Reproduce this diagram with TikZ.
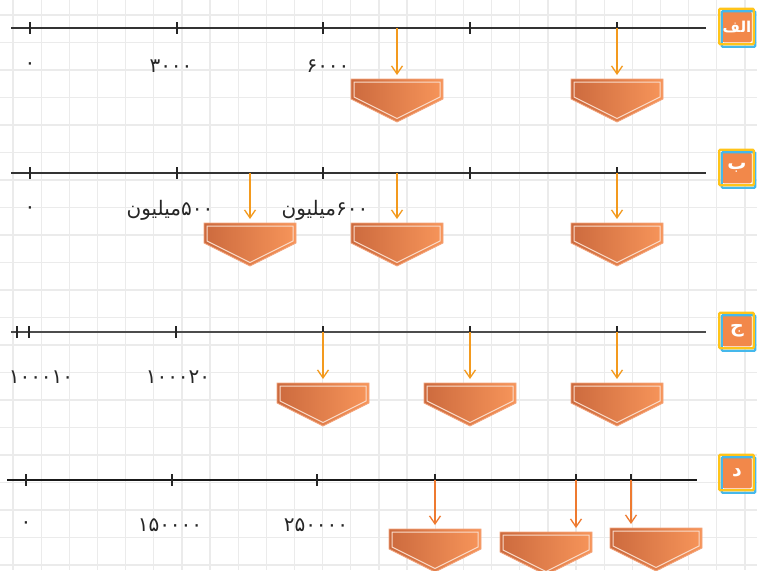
\documentclass[tikz,border=0pt]{standalone}
\usepackage{fontspec}
\newfontfamily\arabicfont[Script=Arabic]{DejaVu Sans}
\TeXXeTstate=1
\usetikzlibrary{arrows.meta,calc}

\definecolor{gridgray}{HTML}{EBEBEB}
\definecolor{axisgray}{HTML}{333333}
\definecolor{arrorange}{HTML}{F39A1E}
\definecolor{arrred}{HTML}{EE7A30}
\definecolor{mkdark}{HTML}{CC6A3E}
\definecolor{mklight}{HTML}{F7955A}
\definecolor{mkedge}{HTML}{F3A57D}
\definecolor{mkinner}{HTML}{F9DCCB}
\definecolor{tagorange}{HTML}{F2884A}
\definecolor{tagyellow}{HTML}{FFC41A}
\definecolor{tagblue}{HTML}{45B8EC}

% pentagon marker below an axis, #1 = name of its top centre
\newcommand{\pentmark}[3]{%
  \coordinate (#1) at (#2,#3);
  \shadedraw[left color=mkdark, right color=mklight, draw=mkedge, line width=0.8pt]
    ([xshift=-46pt]#1) -- ++(92,0) -- ++(0,20) -- ++(-46,23) -- ++(-46,-23) -- cycle;
  \draw[mkinner, line width=1pt]
    ([xshift=-43pt,yshift=-3pt]#1) -- ++(86,0) -- ++(0,15) -- ++(-43,21.5) -- ++(-43,-21.5) -- cycle;
}

\begin{document}
\begin{tikzpicture}[x=1pt, y=-1pt,
    gridline/.style={gridgray, line width=1.3pt},
    axis/.style={axisgray, line width=1.5pt},
    tick/.style={black!85, line width=1.8pt},
    arr/.style={arrorange, line width=1.3pt, -{Straight Barb[length=8pt,width=11pt]}, shorten >=4pt},
    num/.style={font=\arabicfont\fontsize{20}{22}\selectfont, text=black!85, inner sep=0pt},
    tag/.style={fill=tagorange, draw=white, line width=1.5pt, rounded corners=2pt, minimum width=31pt, minimum height=32pt, text=white, font=\arabicfont\bfseries\fontsize{19}{20}\selectfont, inner sep=0pt},
    tagframe/.style={line width=2.2pt, rounded corners=1pt}
]
\useasboundingbox[fill=white] (0,0) rectangle (757,570);
\foreach \i in {0,...,26} \draw[gridline] (13+28.15*\i,0) -- (13+28.15*\i,570);
\foreach \j in {0,...,20} \draw[gridline] (0,15+27.5*\j) -- (757,15+27.5*\j);

% row alef
\draw[axis] (11,28) -- (706,28);
\foreach \x [count=\i] in {30,177,323,470,617} {
  \coordinate (a\i) at (\x,28);
  \draw[tick] ([yshift=6pt]a\i) -- ([yshift=-6pt]a\i);
}
\coordinate (a0) at (397,28);
\pentmark{mA1}{397}{79}
\pentmark{mA2}{617}{79}
\draw[arr] (a0) -- (a0 |- mA1);
\draw[arr] (a5) -- (a5 |- mA2);
\node[num] (lA1) at (30,66) {۰};
\node[num] (lA2) at (171,66) {۳۰۰۰};
\node[num] (lA3) at (328,66) {۶۰۰۰};

% row be
\draw[axis] (11,173) -- (706,173);
\foreach \x [count=\i] in {30,177,323,470,617} {
  \coordinate (b\i) at (\x,173);
  \draw[tick] ([yshift=6pt]b\i) -- ([yshift=-6pt]b\i);
}
\coordinate (b0) at (250,173);
\coordinate (b00) at (397,173);
\pentmark{mB1}{250}{223}
\pentmark{mB2}{397}{223}
\pentmark{mB3}{617}{223}
\draw[arr] (b0) -- (b0 |- mB1);
\draw[arr] (b00) -- (b00 |- mB2);
\draw[arr] (b5) -- (b5 |- mB3);
\node[num] (lB1) at (30,210) {۰};
\node[num] (lB2) at (170,210) {\beginR\beginL ۵۰۰\endL{}میلیون\endR};
\node[num] (lB3) at (325,210) {\beginR\beginL ۶۰۰\endL{}میلیون\endR};

% row jim
\draw[axis, black!70] (11,332) -- (706,332);
\foreach \x [count=\i] in {17,29,176,323,470,617} {
  \coordinate (c\i) at (\x,332);
  \draw[tick] ([yshift=6pt]c\i) -- ([yshift=-6pt]c\i);
}
\pentmark{mC1}{323}{383}
\pentmark{mC2}{470}{383}
\pentmark{mC3}{617}{383}
\draw[arr] (c4) -- (c4 |- mC1);
\draw[arr] (c5) -- (c5 |- mC2);
\draw[arr] (c6) -- (c6 |- mC3);
\node[num] (lC1) at (41,377) {۱۰۰۰۱۰};
\node[num] (lC2) at (178,377) {۱۰۰۰۲۰};

% row dal
\draw[axis, line width=2pt, black!90] (7,480) -- (697,480);
\foreach \x [count=\i] in {26,172,317,435,576,631} {
  \coordinate (d\i) at (\x,480);
  \draw[tick, line width=2pt] ([yshift=6pt]d\i) -- ([yshift=-6pt]d\i);
}
\pentmark{mD1}{435}{529}
\pentmark{mD2}{546}{532}
\pentmark{mD3}{656}{528}
\draw[arr, arrred] (d4) -- (d4 |- mD1);
\draw[arr, arrred] (d5) -- (d5 |- mD2);
\draw[arr, arrred] (d6) -- (d6 |- mD3);
\node[num] (lD1) at (26,525) {۰};
\node[num] (lD2) at (170,525) {۱۵۰۰۰۰};
\node[num] (lD3) at (316,525) {۲۵۰۰۰۰};

% row tags
\node[tag, font=\arabicfont\bfseries\fontsize{15}{16}\selectfont] (tagA) at (737,27) {\beginR الف\endR};
\node[tag] (tagB) at (737,168) {\beginR ب\endR};
\node[tag] (tagC) at (737,331) {\beginR ج\endR};
\node[tag] (tagD) at (737,473) {\beginR د\endR};
\foreach \t in {tagA,tagB,tagC,tagD} {
  \draw[tagframe, tagblue] ([shift={(1,1)}]\t.north west) rectangle ([shift={(2,3)}]\t.south east);
  \draw[tagframe, tagyellow] ([shift={(-1.5,-1.5)}]\t.north west) rectangle ([shift={(0.5,0.5)}]\t.south east);
}
\end{tikzpicture}
\end{document}
